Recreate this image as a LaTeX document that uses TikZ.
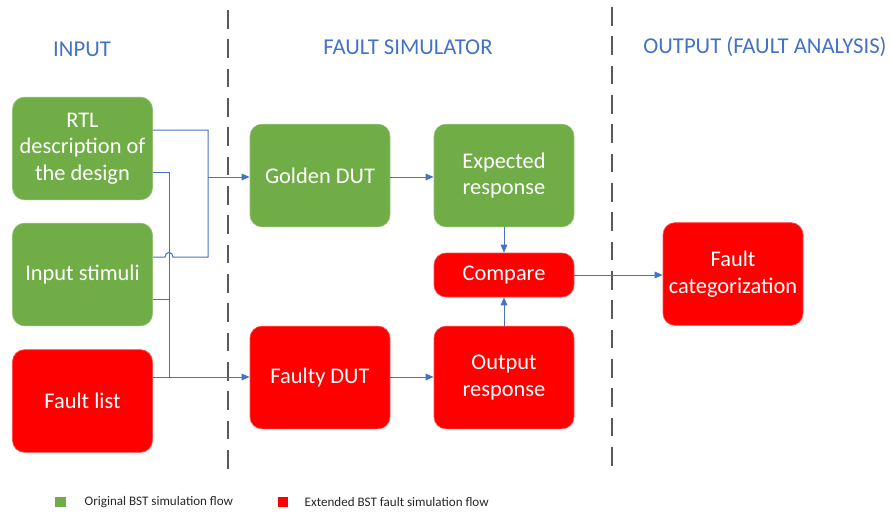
\documentclass[tikz,border=0pt]{standalone}
\usepackage{fontspec}
\setmainfont{Carlito}
\usetikzlibrary{arrows.meta}
\definecolor{flowgreen}{HTML}{70AD47}
\definecolor{flowred}{HTML}{FF0000}
\definecolor{wireblue}{HTML}{4472C4}
\definecolor{sepgray}{HTML}{595959}

\begin{document}
\begin{tikzpicture}[x=0.75pt,y=-0.75pt,
  box/.style={rounded corners=9pt, minimum width=105pt, minimum height=77pt,
    text=white, font=\fontsize{16.8}{20}\selectfont, align=center, inner sep=2pt},
  greenbox/.style={box, fill=flowgreen, draw=flowgreen!75!white, line width=0.5pt},
  redbox/.style={box, fill=flowred, draw=flowred!70!white, line width=0.5pt},
  header/.style={text=wireblue, font=\fontsize{17}{20}\selectfont},
  wire/.style={draw=wireblue, line width=0.75pt},
  arrowwire/.style={wire, -{Triangle[length=6pt,width=5pt]}},
  separator/.style={draw=sepgray, line width=1.4pt, dash pattern=on 14pt off 8pt},
  legendtext/.style={anchor=west, font=\fontsize{9.8}{12}\selectfont, text=black!85}
]
\useasboundingbox (0,0) rectangle (891,514);

% column separators
\draw[separator] (228,10) -- (228,476);
\draw[separator] (612,7) -- (612,474);

% column headings
\node[header] (hin)  at (82,49)  {INPUT};
\node[header] (hsim) at (408,47) {FAULT SIMULATOR};
\node[header] (hout) at (765,47) {OUTPUT (FAULT ANALYSIS)};

% input blocks
\node[greenbox] (rtl)  at (82.5,148.5) {RTL\\description of\\the design};
\node[greenbox] (stim) at (82.5,274.5) {Input stimuli};
\node[redbox]   (flist) at (82.5,401)  {Fault list};

% simulator blocks
\node[greenbox] (golden)   at (320,175.5) {Golden DUT};
\node[redbox]   (faulty)   at (320,377.5) {Faulty DUT};
\node[greenbox] (expected) at (504,175.5) {Expected\\response};
\node[redbox, minimum height=33pt] (compare) at (504,275) {Compare};
\node[redbox]   (outresp)  at (504,377.5) {Output\\response};

% output block
\node[redbox] (categ) at (733,274) {Fault\\categorization};

% junction points of the input wiring
\coordinate (ja) at (208,130);
\coordinate (jb) at (208,257);
\coordinate (jc) at (169,172);
\coordinate (jd) at (169,377);

% design + stimuli feed the golden model
\draw[wire] (rtl.east |- ja) -- (ja) -- (jb) -- (173,257)
  .. controls (173,251) and (165,251) .. (165,257) -- (stim.east |- jb);
\draw[arrowwire] (208,177) -- (golden.west |- 0,177);

% design + stimuli + fault list feed the faulty model
\draw[wire] (rtl.east |- jc) -- (jc) -- (jd);
\draw[wire] (stim.east |- 0,299) -- (169,299);
\draw[arrowwire] (flist.east |- jd) -- (faulty.west |- jd);

% simulator flow
\draw[arrowwire] (golden.east |- 0,177) -- (expected.west |- 0,177);
\draw[arrowwire] (faulty.east |- jd) -- (outresp.west |- jd);
\draw[arrowwire] (expected.south) -- (compare.north);
\draw[arrowwire] (outresp.north) -- (compare.south);
\draw[arrowwire] (compare.east) -- (categ.west |- compare.east);

% legend
\node[fill=flowgreen, minimum size=8pt, inner sep=0pt] (lg) at (60.5,502) {};
\node[legendtext] (lgt) at (80,502) {Original BST simulation flow};
\node[fill=flowred, minimum size=8pt, inner sep=0pt] (lr) at (283,502) {};
\node[legendtext] (lrt) at (300,502) {Extended BST fault simulation flow};
\end{tikzpicture}
\end{document}
